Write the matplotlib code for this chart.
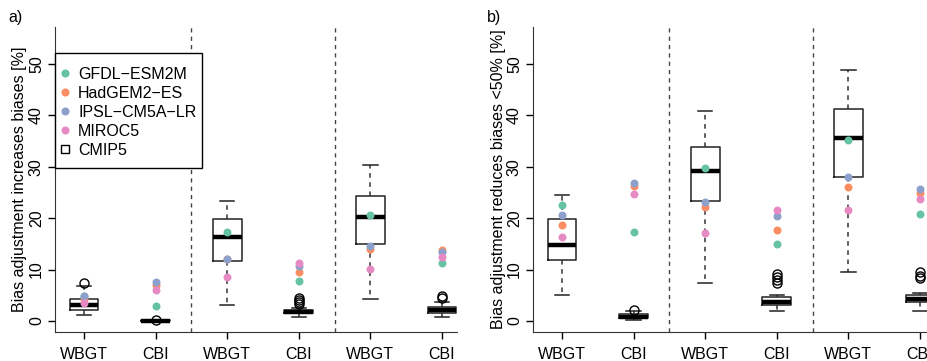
import matplotlib
matplotlib.use("Agg")
import matplotlib.pyplot as plt
from matplotlib.lines import Line2D
from matplotlib.patches import Rectangle

plt.rcParams['font.family'] = ['Liberation Sans', 'DejaVu Sans']

# categories
groups = ["WBGT", "CBI", "WBGT", "CBI", "WBGT", "CBI"]
models = ["GFDL\u2212ESM2M", "HadGEM2\u2212ES", "IPSL\u2212CM5A\u2212LR", "MIROC5"]
model_colors = ["#66C2A5", "#FC8D62", "#8DA0CB", "#E78AC3"]

# panel a: CMIP5 box statistics
a_med = [3.2, 0.0, 16.3, 1.8, 20.3, 2.1]
a_q1 = [2.1, 0.0, 11.6, 1.5, 15.0, 1.6]
a_q3 = [4.2, 0.1, 19.8, 2.2, 24.4, 2.8]
a_lo = [1.2, 0.0, 3.2, 0.8, 4.2, 0.7]
a_hi = [6.9, 0.2, 23.4, 2.6, 30.4, 3.6]
a_fliers = [[7.3], [0.2], [], [3.3, 3.7, 4.1, 4.5], [], [4.5, 4.8]]
# panel a: single models
a_models = [
    [4.8, 2.9, 17.3, 7.7, 20.6, 11.2],
    [4.3, 7.0, 12.0, 9.5, 14.0, 13.8],
    [4.9, 7.5, 12.0, 10.7, 14.5, 13.5],
    [3.5, 6.0, 8.5, 11.2, 10.1, 12.4],
]

# panel b: CMIP5 box statistics
b_med = [14.7, 0.85, 29.2, 3.75, 35.6, 4.3]
b_q1 = [11.9, 0.5, 23.3, 3.1, 28.0, 3.6]
b_q3 = [19.9, 1.3, 33.9, 4.6, 41.2, 5.0]
b_lo = [5.0, 0.1, 7.3, 1.95, 9.6, 2.0]
b_hi = [24.5, 2.0, 40.9, 5.1, 48.8, 5.5]
b_fliers = [[], [2.1], [], [7.4, 7.9, 8.5, 9.2], [], [8.3, 8.8, 9.5]]
# panel b: single models
b_models = [
    [22.5, 17.4, 29.7, 14.9, 35.3, 20.8],
    [18.7, 26.2, 22.1, 17.8, 26.0, 24.9],
    [20.6, 26.9, 23.1, 20.5, 28.0, 25.6],
    [16.3, 24.8, 17.1, 21.5, 21.5, 23.7],
]


def draw_panel(ax, med, q1, q3, lo, hi, fliers, model_vals, ylabel, tag):
    stats = []
    for i in range(len(groups)):
        stats.append(dict(med=med[i], q1=q1[i], q3=q3[i], whislo=lo[i],
                          whishi=hi[i], fliers=fliers[i]))
    pos = list(range(1, len(groups) + 1))
    ax.bxp(stats, positions=pos, widths=0.4, manage_ticks=False,
           boxprops=dict(color="#222222", lw=1.1),
           medianprops=dict(color="black", lw=3.2, solid_capstyle="butt"),
           whiskerprops=dict(color="#333333", lw=1.1, linestyle=(0, (3, 3))),
           capprops=dict(color="#222222", lw=1.1),
           flierprops=dict(marker="o", markerfacecolor="none",
                           markeredgecolor="black", markersize=6.5,
                           markeredgewidth=1.0))
    for vals, col in zip(model_vals, model_colors):
        ax.scatter(pos, vals, s=33, color=col, zorder=5, linewidths=0)

    for xv in [2.5, 4.5]:
        ax.axvline(xv, color="#444444", lw=1.0, linestyle=(0, (3, 3)))

    ax.set_xlim(0.595, 6.21)
    ax.set_ylim(-2.14, 57.2)
    ax.set_xticks(pos)
    ax.set_xticklabels(groups)
    ax.set_yticks([0, 10, 20, 30, 40, 50])
    ax.set_yticklabels(["0", "10", "20", "30", "40", "50"],
                       rotation=90, va="center")
    ax.tick_params(axis="x", length=5, width=1, pad=5.5, labelsize=11.5)
    ax.tick_params(axis="y", length=5, width=1, pad=3, labelsize=11.5)
    ax.spines["top"].set_visible(False)
    ax.spines["right"].set_visible(False)
    ax.spines["left"].set_color("#333333")
    ax.spines["bottom"].set_color("#333333")
    ax.set_ylabel(ylabel, fontsize=11.5, labelpad=1)
    ax.text(-0.115, 1.03, tag, transform=ax.transAxes, fontsize=11.5,
            va="center", ha="left")


fig = plt.figure(figsize=(9.28, 3.61), dpi=100)
ax_a = fig.add_axes([55 / 928, 1 - 332 / 361, 402 / 928, 305 / 361])
ax_b = fig.add_axes([533 / 928, 1 - 332 / 361, 402 / 928, 305 / 361])

draw_panel(ax_a, a_med, a_q1, a_q3, a_lo, a_hi, a_fliers, a_models,
           "Bias adjustment increases biases [%]", "a)")
draw_panel(ax_b, b_med, b_q1, b_q3, b_lo, b_hi, b_fliers, b_models,
           "Bias adjustment reduces biases <50% [%]", "b)")

# legend box (R style: wide padding) drawn as a frame, entries frameless
ax_a.add_patch(Rectangle((0, 0.5377), 0.3657, 0.3771, transform=ax_a.transAxes,
                         facecolor="white", edgecolor="black", lw=1.0,
                         zorder=9, clip_on=False))
handles = [Line2D([], [], marker="o", linestyle="none", markersize=5.8,
                  markerfacecolor=c, markeredgewidth=0) for c in model_colors]
handles.append(Line2D([], [], marker="s", linestyle="none", markersize=5.5,
                      markerfacecolor="none", markeredgecolor="black",
                      markeredgewidth=1.0))
leg = ax_a.legend(handles, models + ["CMIP5"], loc="upper left",
                  bbox_to_anchor=(0, 0.886), borderaxespad=0, fontsize=11.5,
                  frameon=False, handlelength=0.6, handletextpad=0.55,
                  labelspacing=0.25, borderpad=0.3)
leg.set_zorder(10)

fig.savefig("out.png", dpi=100)
